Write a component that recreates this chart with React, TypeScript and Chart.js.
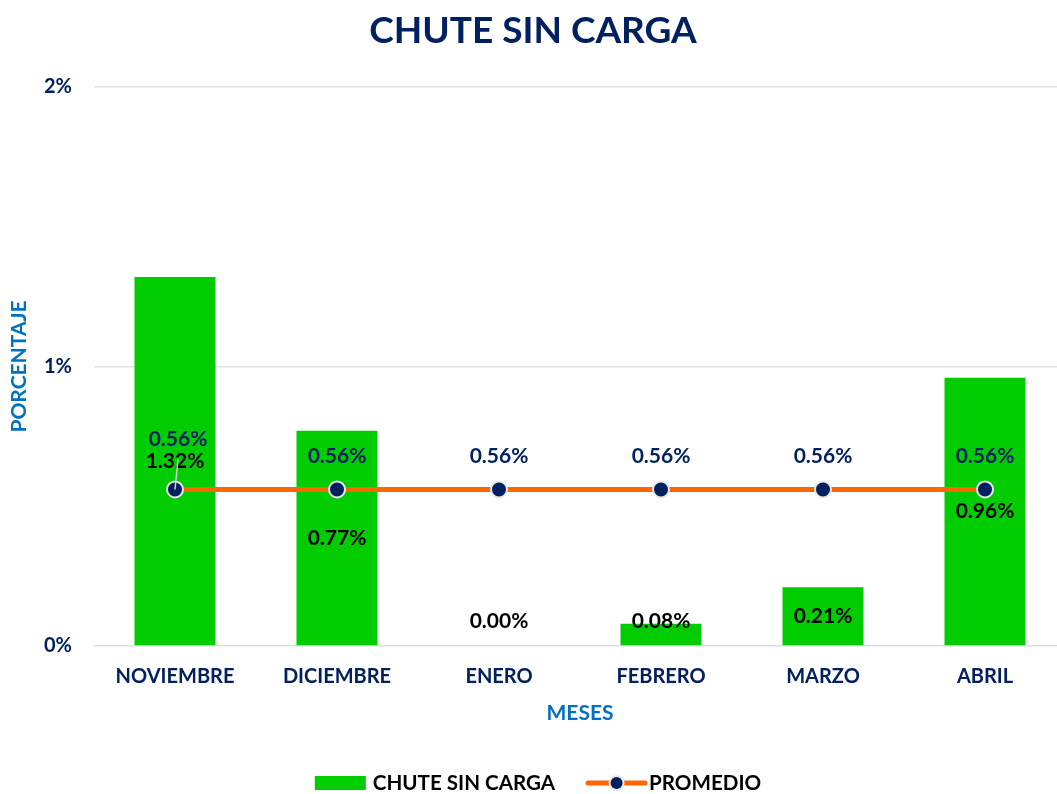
import { useEffect, useRef } from 'react';
import { Chart, registerables } from 'chart.js';

Chart.register(...registerables);

const chartTitle = 'CHUTE SIN CARGA';
const categories = ['NOVIEMBRE', 'DICIEMBRE', 'ENERO', 'FEBRERO', 'MARZO', 'ABRIL'];
const chuteValues = [1.32, 0.77, 0.0, 0.08, 0.21, 0.96];
const promedioValues = [0.56, 0.56, 0.56, 0.56, 0.56, 0.56];
const seriesNames = ['CHUTE SIN CARGA', 'PROMEDIO'];
const yTickValues = [0, 1, 2];
const xAxisTitle = 'MESES';
const yAxisTitle = 'PORCENTAJE';

const FONT = 'Lato';
const NAVY = '#002060';
const BLUE = '#0070C0';
const GREEN = '#00CC00';
const ORANGE = '#FF6600';
const GRID = '#DCDFE6';

const fmt = (v: number) => v.toFixed(2) + '%';

const labelsPlugin = {
  id: 'customLabels',
  afterDatasetsDraw(chart: any) {
    const ctx = chart.ctx;
    const bars = chart.getDatasetMeta(0).data;
    const pts = chart.getDatasetMeta(1).data;
    const zeroY = chart.scales.y.getPixelForValue(0);
    ctx.save();
    ctx.font = `bold 21px ${FONT}`;
    ctx.textAlign = 'center';
    ctx.textBaseline = 'middle';
    bars.forEach((b: any, i: number) => {
      const y = Math.min((b.y + b.base) / 2, zeroY - 25);
      ctx.fillStyle = '#000000';
      ctx.fillText(fmt(chuteValues[i]), b.x, y);
    });
    pts.forEach((p: any, i: number) => {
      let lx = p.x;
      let ly = p.y - 33;
      if (i === 0) {
        lx = p.x + 3;
        ly = p.y - 50;
        ctx.strokeStyle = '#D0D0D0';
        ctx.lineWidth = 1.5;
        ctx.beginPath();
        ctx.moveTo(p.x, p.y);
        ctx.lineTo(p.x + 3, p.y - 30);
        ctx.stroke();
      }
      ctx.fillStyle = NAVY;
      ctx.fillText(fmt(promedioValues[i]), lx, ly);
    });
    ctx.restore();
  },
  afterDraw(chart: any) {
    const ctx = chart.ctx;
    ctx.save();
    ctx.font = `bold 20.6px ${FONT}`;
    ctx.textBaseline = 'middle';
    ctx.textAlign = 'left';
    const w1 = ctx.measureText(seriesNames[0]).width;
    const w2 = ctx.measureText(seriesNames[1]).width;
    const total = 51 + 7 + w1 + 33 + 57 + 4 + w2;
    let x = 538 - total / 2;
    const y = 783;
    ctx.fillStyle = GREEN;
    ctx.fillRect(x, y - 7, 51, 14);
    x += 58;
    ctx.fillStyle = '#000000';
    ctx.fillText(seriesNames[0], x, y);
    x += w1 + 33;
    ctx.strokeStyle = ORANGE;
    ctx.lineWidth = 5;
    ctx.lineCap = 'round';
    ctx.beginPath();
    ctx.moveTo(x, y);
    ctx.lineTo(x + 57, y);
    ctx.stroke();
    ctx.beginPath();
    ctx.arc(x + 28.5, y, 7, 0, Math.PI * 2);
    ctx.fillStyle = NAVY;
    ctx.fill();
    ctx.lineWidth = 2;
    ctx.strokeStyle = '#E8E8E8';
    ctx.stroke();
    x += 61;
    ctx.fillStyle = '#000000';
    ctx.fillText(seriesNames[1], x, y);
    ctx.restore();
  },
};

export default function App() {
  const ref = useRef<HTMLCanvasElement>(null);
  useEffect(() => {
    if (!ref.current) return;
    const chart = new Chart(ref.current, {
      type: 'bar',
      data: {
        labels: categories,
        datasets: [
          {
            type: 'bar',
            label: seriesNames[0],
            data: chuteValues,
            backgroundColor: GREEN,
            borderWidth: 0,
            barPercentage: 1,
            categoryPercentage: 0.5,
            order: 1,
          },
          {
            type: 'line',
            label: seriesNames[1],
            data: promedioValues,
            borderColor: ORANGE,
            borderWidth: 5,
            pointRadius: 8,
            pointBackgroundColor: NAVY,
            pointBorderColor: '#E8E8E8',
            pointBorderWidth: 2,
            order: 0,
          },
        ] as any,
      },
      options: {
        responsive: false,
        animation: false,
        layout: { autoPadding: false, padding: { top: 0, left: 0, right: 0, bottom: 68 } },
        plugins: {
          legend: { display: false },
          tooltip: { enabled: false },
          title: {
            display: true,
            text: chartTitle,
            color: NAVY,
            font: { family: FONT, size: 37, weight: 'bold' },
            padding: { top: 9, bottom: 33.6 },
          },
        },
        scales: {
          x: {
            grid: { display: false, drawTicks: false },
            border: { display: false },
            ticks: {
              color: NAVY,
              font: { family: FONT, size: 20, weight: 'bold' },
              padding: 19,
              maxRotation: 0,
            },
            title: {
              display: true,
              text: xAxisTitle,
              color: BLUE,
              font: { family: FONT, size: 21, weight: 'bold' },
              padding: { top: 0, bottom: 0 },
            },
            afterFit: (s: any) => {
              s.height = 80;
              s.paddingLeft = 0;
              s.paddingRight = 0;
            },
          },
          y: {
            min: 0,
            max: 2,
            afterBuildTicks: (s: any) => {
              s.ticks = yTickValues.map((v) => ({ value: v }));
            },
            grid: { color: GRID, lineWidth: 1.5, drawTicks: false },
            border: { display: false },
            ticks: {
              color: NAVY,
              font: { family: FONT, size: 20, weight: 'bold' },
              padding: 22,
              callback: (v: any) => v + '%',
            },
            title: {
              display: true,
              text: yAxisTitle,
              color: BLUE,
              font: { family: FONT, size: 21, weight: 'bold' },
              padding: { top: 7, bottom: 0 },
            },
            afterFit: (s: any) => {
              s.width = 94;
            },
          },
        },
      },
      plugins: [labelsPlugin],
    });
    return () => chart.destroy();
  }, []);
  return (
    <div style={{ position: 'fixed', left: 0, top: 0, width: 1057, height: 794, overflow: 'hidden', background: '#fff' }}>
      <canvas ref={ref} width={1066} height={794} style={{ display: 'block' }} />
    </div>
  );
}
